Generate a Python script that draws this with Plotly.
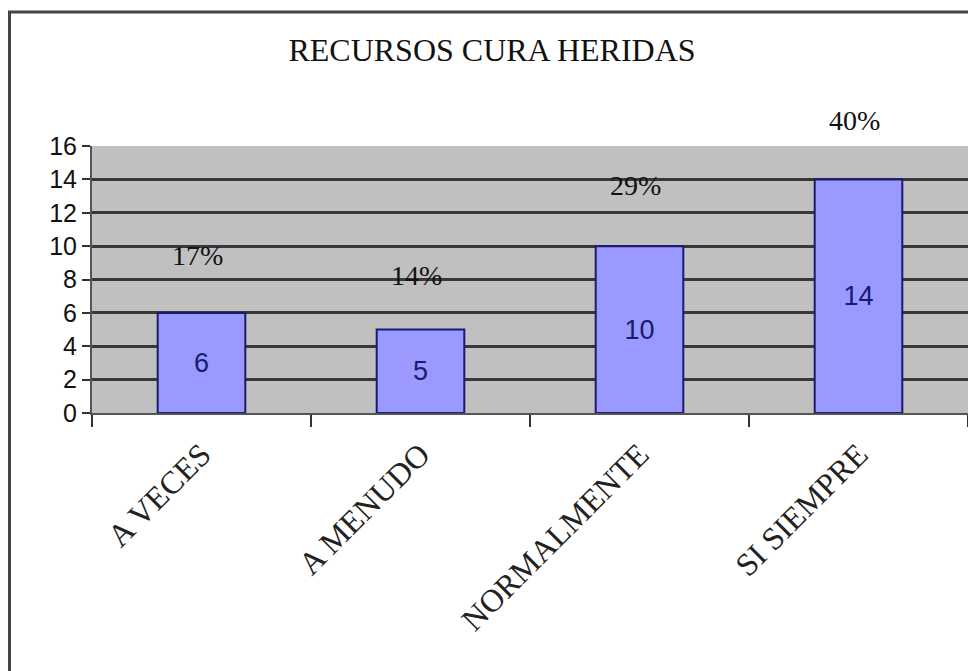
import plotly.graph_objects as go

categories = ["A VECES", "A MENUDO", "NORMALMENTE", "SI SIEMPRE"]
values = [6, 5, 10, 14]
percent_labels = ["17%", "14%", "29%", "40%"]
title_text = "RECURSOS CURA HERIDAS"

# styling (label offsets above bar tops, in pixels)
pct_shifts = [57, 54, 61, 59]

SERIF = "Liberation Serif, Times New Roman, serif"
SANS = "Liberation Sans, Arial, sans-serif"

fig = go.Figure()
fig.add_trace(go.Bar(
    x=categories, y=values,
    width=0.4,
    marker=dict(color="#9999FF", line=dict(color="#1a1a6e", width=2)),
    text=[str(v) for v in values],
    textposition="inside", insidetextanchor="middle",
    textfont=dict(family=SANS, size=27, color="#1a1a6e"),
    showlegend=False,
))

for c, v, p, s in zip(categories, values, percent_labels, pct_shifts):
    fig.add_annotation(x=c, y=v, text=p, showarrow=False, yshift=s, xshift=-4,
                       font=dict(family=SERIF, size=28, color="#111"))

fig.add_shape(type="rect", xref="paper", yref="paper",
              x0=-0.0942, x1=1.0057, y0=-1.05, y1=1.502,
              line=dict(color="#444444", width=3), layer="below")

fig.update_layout(
    width=968, height=663,
    margin=dict(l=84, r=8, t=138, b=258),
    paper_bgcolor="white", plot_bgcolor="#C0C0C0",
    title=dict(text=title_text, x=0.5, xanchor="center", y=0.937, yanchor="middle",
               font=dict(family=SERIF, size=32, color="#111")),
)
fig.update_yaxes(range=[0, 16], dtick=2, ticks="outside", ticklen=8, tickcolor="#333",
                 tickwidth=2,
                 showgrid=True, gridcolor="#383838", gridwidth=2.5,
                 showline=True, linecolor="#555", linewidth=2,
                 tickfont=dict(family=SANS, size=25, color="#111"),
                 zeroline=False)
fig.update_xaxes(ticks="outside", tickson="boundaries", ticklen=12, tickcolor="#333",
                 tickwidth=2,
                 showline=True, linecolor="#555", linewidth=2, tickangle=-45,
                 ticklabelstandoff=8,
                 tickfont=dict(family=SERIF, size=32, color="#222"))

fig.write_html("out.html")
